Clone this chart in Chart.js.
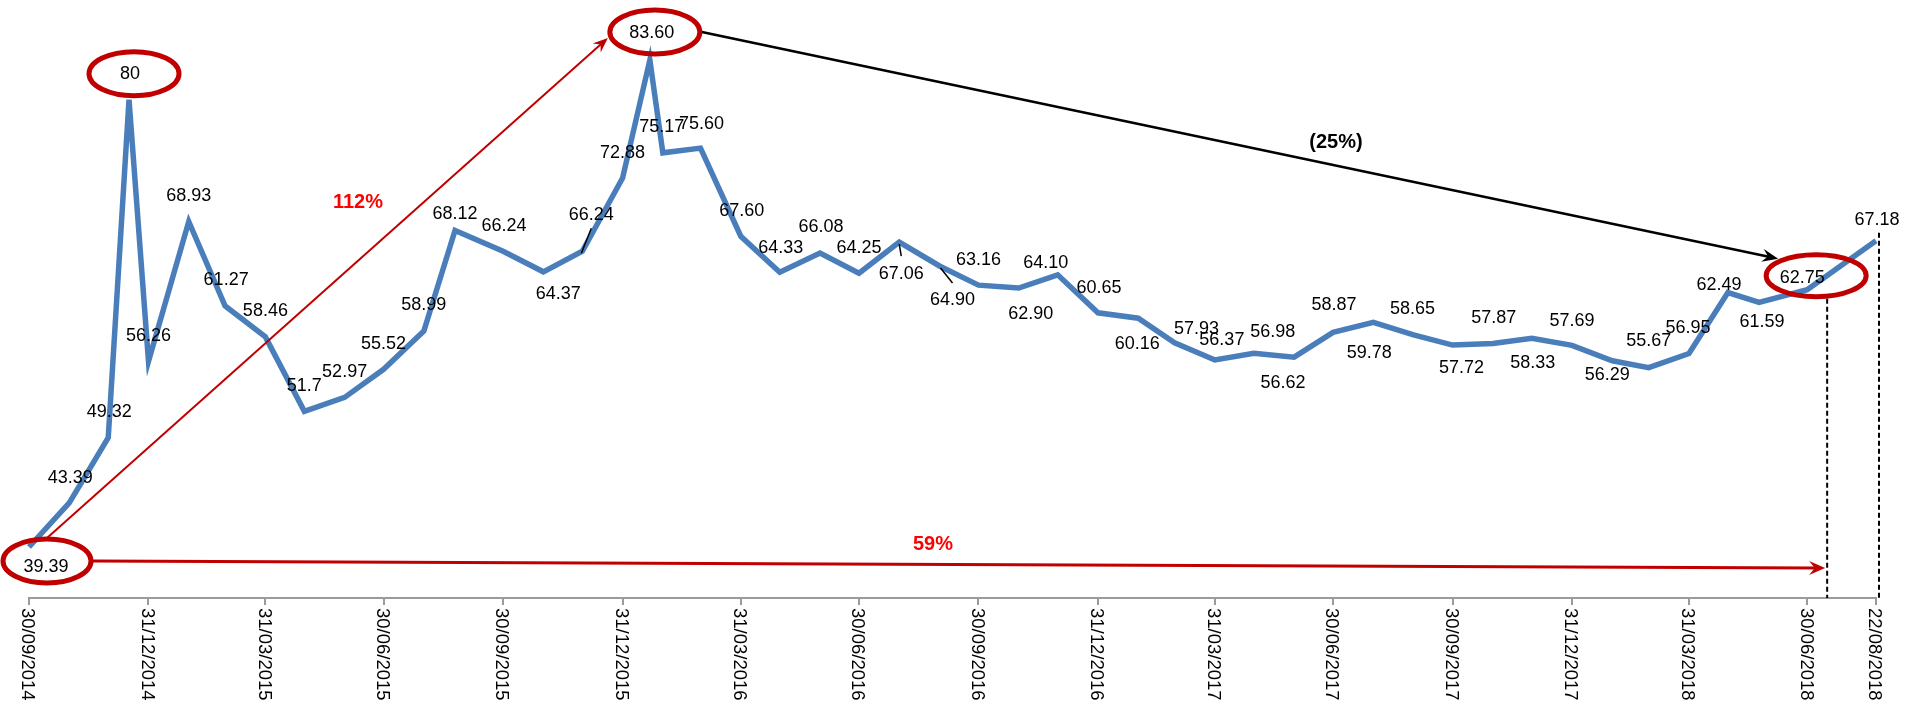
<!DOCTYPE html>
<html>
<head>
<meta charset="utf-8">
<script src="https://cdn.jsdelivr.net/npm/chart.js@4"></script>
<style>
  html, body { margin: 0; padding: 0; background: #fff; }
  #wrap { width: 1907px; height: 703px; }
</style>
</head>
<body>
<div id="wrap"><canvas id="chart"></canvas></div>
<script>
// USD/RUB closing rates, 30/09/2014 - 22/08/2018
const dates = [
  '30/09/2014', '31/10/2014', '30/11/2014', '16/12/2014', '31/12/2014',
  '31/01/2015', '28/02/2015', '31/03/2015', '30/04/2015', '31/05/2015', '30/06/2015',
  '31/07/2015', '24/08/2015', '30/09/2015', '31/10/2015', '30/11/2015', '31/12/2015',
  '21/01/2016', '31/01/2016', '29/02/2016', '31/03/2016', '30/04/2016', '31/05/2016',
  '30/06/2016', '31/07/2016', '31/08/2016', '30/09/2016', '31/10/2016', '30/11/2016', '31/12/2016',
  '31/01/2017', '28/02/2017', '31/03/2017', '30/04/2017', '31/05/2017', '30/06/2017',
  '31/07/2017', '31/08/2017', '30/09/2017', '31/10/2017', '30/11/2017', '31/12/2017',
  '31/01/2018', '28/02/2018', '31/03/2018', '30/04/2018', '24/05/2018', '30/06/2018', '22/08/2018'
];
const rateText = [
  '39.39', '43.39', '49.32', '80', '56.26',
  '68.93', '61.27', '58.46', '51.7', '52.97', '55.52',
  '58.99', '68.12', '66.24', '64.37', '66.24', '72.88',
  '83.60', '75.17', '75.60', '67.60', '64.33', '66.08',
  '64.25', '67.06', '64.90', '63.16', '62.90', '64.10', '60.65',
  '60.16', '57.93', '56.37', '56.98', '56.62', '58.87',
  '59.78', '58.65', '57.72', '57.87', '58.33', '57.69',
  '56.29', '55.67', '56.95', '62.49', '61.59', '62.75', '67.18'
];
const tickDates = [
  '30/09/2014', '31/12/2014', '31/03/2015', '30/06/2015', '30/09/2015', '31/12/2015',
  '31/03/2016', '30/06/2016', '30/09/2016', '31/12/2016', '31/03/2017', '30/06/2017',
  '30/09/2017', '31/12/2017', '31/03/2018', '30/06/2018', '22/08/2018'
];

const rates = rateText.map(Number);

function dayNum(s) {
  const [d, m, y] = s.split('/').map(Number);
  return Date.UTC(y, m - 1, d) / 86400000;
}
const day0 = dayNum(dates[0]);
const days = dates.map(s => dayNum(s) - day0);
const tickDays = tickDates.map(s => dayNum(s) - day0);

// label centre offsets from each point, in px
const labelShift = [
  [17, 19], [1, -26], [1, -27], [1, -27], [0, -27],
  [0, -27], [1, -27], [0, -27], [0, -27], [0, -27], [0, -27],
  [0, -28], [0, -18], [1, -27], [15, 21], [9, -38], [0, -27],
  [2, -28], [-1, -27], [1, -26], [1, -27], [1, -26], [1, -27],
  [0, -27], [2, 30], [13, 33], [0, -27], [12, 24], [-12, -13], [1, -26],
  [-1, 24], [22, -15], [7, -21], [19, -23], [-11, 24], [1, -29],
  [-4, 29], [-1, -27], [9, 21], [1, -27], [1, 23], [0, -26],
  [-5, 13], [0, -28], [-1, -27], [-9, -9], [3, 18], [-5, -13], [1, -22]
];
// short leader lines for labels pushed off their point
const leaders = { 15: [[9, -23], [-1, 2]], 24: [[0, 2], [2, 14]], 25: [[1, 2], [13, 17]] };

const FONT = '"Liberation Sans", Arial, sans-serif';
const DARK_RED = '#C00000';

function arrow(ctx, x1, y1, x2, y2, color, width, len, wid) {
  const a = Math.atan2(y2 - y1, x2 - x1);
  ctx.save();
  ctx.strokeStyle = color;
  ctx.fillStyle = color;
  ctx.lineWidth = width;
  ctx.beginPath();
  ctx.moveTo(x1, y1);
  ctx.lineTo(x2 - Math.cos(a) * len * 0.6, y2 - Math.sin(a) * len * 0.6);
  ctx.stroke();
  ctx.translate(x2, y2);
  ctx.rotate(a);
  ctx.beginPath();
  ctx.moveTo(0, 0);
  ctx.lineTo(-len, -wid / 2);
  ctx.lineTo(-len * 0.65, 0);
  ctx.lineTo(-len, wid / 2);
  ctx.closePath();
  ctx.fill();
  ctx.restore();
}

const dataLabels = {
  id: 'dataLabels',
  afterDatasetsDraw(chart) {
    const { ctx, scales: { x, y } } = chart;
    ctx.save();
    ctx.font = '18px ' + FONT;
    ctx.fillStyle = '#000';
    ctx.textAlign = 'center';
    ctx.textBaseline = 'alphabetic';
    rateText.forEach((t, i) => {
      const px = x.getPixelForValue(days[i]);
      const py = y.getPixelForValue(rates[i]);
      const [dx, dy] = labelShift[i];
      ctx.fillText(t, px + dx, py + dy + 6.5);
      if (leaders[i]) {
        const [[ax, ay], [bx, by]] = leaders[i];
        ctx.strokeStyle = '#000';
        ctx.lineWidth = 1.5;
        ctx.beginPath();
        ctx.moveTo(px + ax, py + ay);
        ctx.lineTo(px + bx, py + by);
        ctx.stroke();
      }
    });
    ctx.restore();
  }
};

const callouts = {
  id: 'callouts',
  afterDatasetsDraw(chart) {
    const { ctx, scales: { x, y } } = chart;
    const pt = i => ({ x: x.getPixelForValue(days[i]), y: y.getPixelForValue(rates[i]) });

    // rings round the key rates
    const rings = [
      { i: 3, dx: 5, dy: -26, rx: 45, ry: 22 },
      { i: 17, dx: 5, dy: -28, rx: 45, ry: 22 },
      { i: 0, dx: 18, dy: 14, rx: 44, ry: 22 },
      { i: 47, dx: 9, dy: -14, rx: 50, ry: 21 }
    ].map(r => { const p = pt(r.i); return { cx: p.x + r.dx, cy: p.y + r.dy, rx: r.rx, ry: r.ry }; });

    ctx.save();
    ctx.strokeStyle = DARK_RED;
    ctx.lineWidth = 5;
    rings.forEach(r => {
      ctx.beginPath();
      ctx.ellipse(r.cx, r.cy, r.rx, r.ry, 0, 0, Math.PI * 2);
      ctx.stroke();
    });
    ctx.restore();

    const [rPeak14, rPeak16, rStart, rJun18] = rings;
    const axisY = x.top;

    // dashed drop lines at the last two dates
    const dropA = pt(47).x + 20;
    const dropB = pt(48).x + 3;
    ctx.save();
    ctx.strokeStyle = '#000';
    ctx.lineWidth = 2;
    ctx.setLineDash([5, 3]);
    ctx.beginPath();
    ctx.moveTo(dropA, rJun18.cy + rJun18.ry + 2);
    ctx.lineTo(dropA, axisY);
    ctx.moveTo(dropB, pt(48).y - 8);
    ctx.lineTo(dropB, axisY);
    ctx.stroke();
    ctx.restore();

    // change arrows
    arrow(ctx, rStart.cx, rStart.cy - rStart.ry - 1, rPeak16.cx - rPeak16.rx - 2, rPeak16.cy + 6, DARK_RED, 2, 15, 12);
    arrow(ctx, rPeak16.cx + rPeak16.rx + 2, rPeak16.cy, rJun18.cx - 38, rJun18.cy - 17, '#000', 2.5, 16, 13);
    arrow(ctx, rStart.cx + rStart.rx + 2, rStart.cy, dropA - 2, rStart.cy + 7, DARK_RED, 3, 16, 14);

    ctx.save();
    ctx.font = 'bold 20px ' + FONT;
    ctx.textAlign = 'center';
    ctx.textBaseline = 'alphabetic';
    ctx.fillStyle = '#FF0000';
    ctx.fillText('112%', 358, 208);
    ctx.fillText('59%', 933, 550);
    ctx.fillStyle = '#000';
    ctx.fillText('(25%)', 1336, 148);
    ctx.restore();
  }
};

const dateTicks = {
  id: 'dateTicks',
  afterDraw(chart) {
    const { ctx, scales: { x } } = chart;
    ctx.save();
    ctx.font = '18.5px ' + FONT;
    ctx.fillStyle = '#000';
    ctx.textAlign = 'left';
    ctx.textBaseline = 'alphabetic';
    tickDays.forEach((d, i) => {
      ctx.save();
      ctx.translate(x.getPixelForValue(d), x.top + 10);
      ctx.rotate(Math.PI / 2);
      ctx.fillText(tickDates[i], 0, 6.6);
      ctx.restore();
    });
    ctx.restore();
  }
};

new Chart(document.getElementById('chart'), {
  type: 'line',
  data: {
    datasets: [{
      data: days.map((d, i) => ({ x: d, y: rates[i] })),
      borderColor: '#4A7EBB',
      borderWidth: 5.5,
      pointRadius: 0,
      tension: 0,
      fill: false,
      clip: false
    }]
  },
  options: {
    responsive: true,
    maintainAspectRatio: false,
    animation: false,
    devicePixelRatio: 1,
    layout: { padding: { left: 29, right: 31, top: 6, bottom: 0 } },
    plugins: { legend: { display: false }, tooltip: { enabled: false } },
    scales: {
      x: {
        type: 'linear',
        min: 0,
        max: days[days.length - 1],
        afterBuildTicks: s => { s.ticks = tickDays.map(v => ({ value: v })); },
        afterFit: s => { s.height = 105; },
        ticks: { display: false },
        grid: { drawOnChartArea: false, drawTicks: true, tickLength: 7, color: '#9b9b9b', lineWidth: 2 },
        border: { display: true, color: '#9b9b9b', width: 2 }
      },
      y: { display: false, min: 34.76, max: 88.5 }
    }
  },
  plugins: [dataLabels, callouts, dateTicks]
});
</script>
</body>
</html>
